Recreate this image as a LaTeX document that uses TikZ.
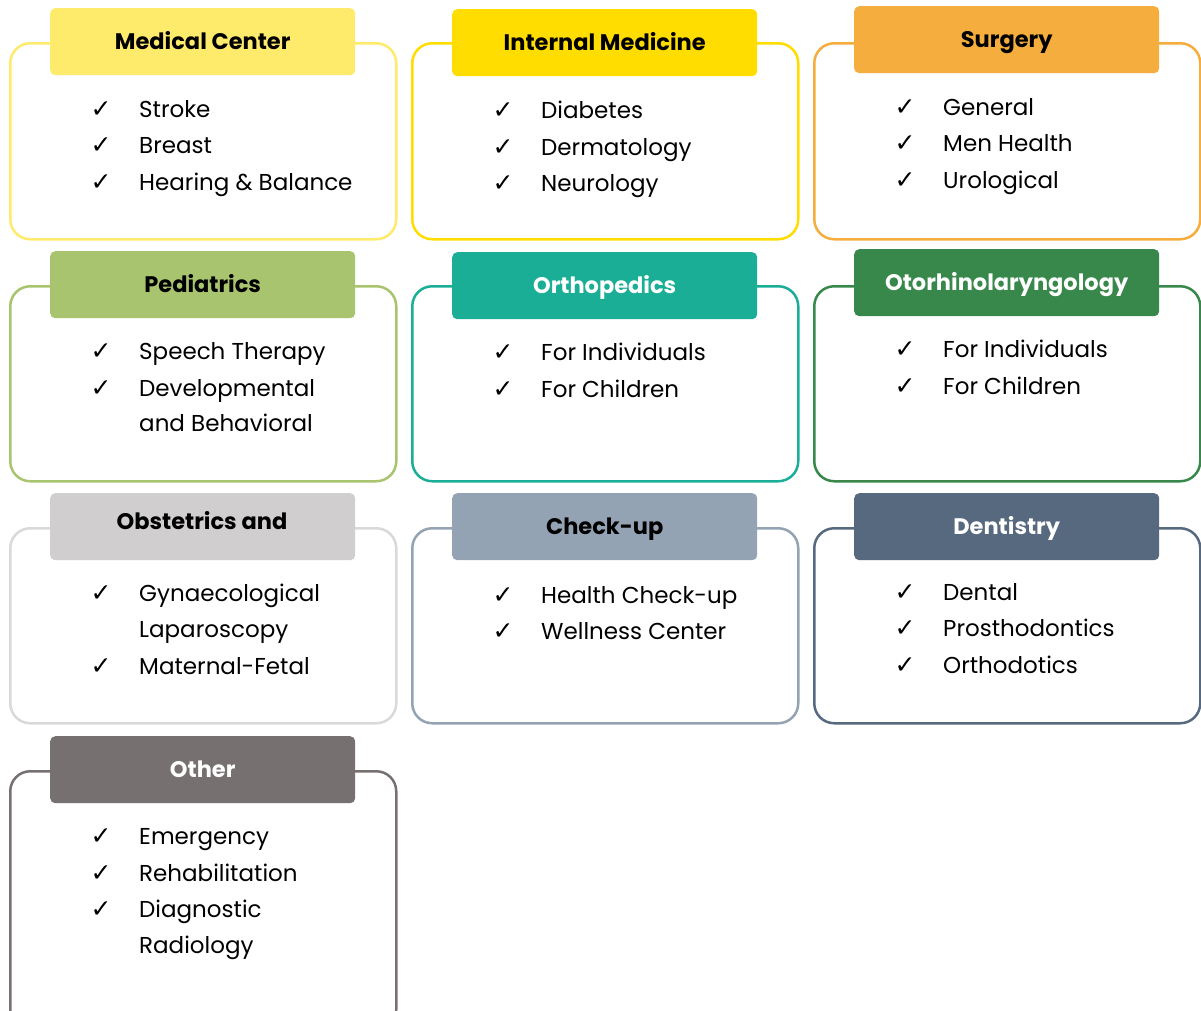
\documentclass[tikz,border=0pt]{standalone}
\usepackage{fontspec}
\setmainfont{Poppins}
\newfontfamily\symfont{DejaVu Sans}
\definecolor{cMed}{HTML}{FFEB6B}
\definecolor{cInt}{HTML}{FFDD00}
\definecolor{cSur}{HTML}{F5AE3E}
\definecolor{cPed}{HTML}{A9C46F}
\definecolor{cOrt}{HTML}{1BAE96}
\definecolor{cOto}{HTML}{37884A}
\definecolor{cObs}{HTML}{D0CECE}
\definecolor{cObsB}{HTML}{D9D9D9}
\definecolor{cChk}{HTML}{94A3B3}
\definecolor{cDen}{HTML}{56697F}
\definecolor{cOth}{HTML}{767170}
\tikzset{
  outerbox/.style={draw=#1, line width=2.5pt, rounded corners=20pt, fill=white,
    minimum width=386pt, anchor=north west, inner sep=0pt},
  headfont/.style={font=\fontsize{22.5}{26}\selectfont\bfseries, text height=20pt, text depth=4.2pt},
  headbox/.style={fill=#1, rounded corners=5pt, minimum width=305pt, minimum height=67pt,
    anchor=north west, inner sep=0pt, headfont},
  tick/.style={anchor=base, inner sep=0pt, font=\symfont\fontsize{25}{28}\selectfont},
  item/.style={anchor=base west, inner sep=0pt, font=\fontsize{23}{27}\selectfont}
}
\begin{document}
\begin{tikzpicture}[x=1pt,y=-1pt]
\useasboundingbox (0,0) rectangle (1201,1010);
% ---------- Row 1 ----------
\node[outerbox=cMed, minimum height=196pt] (b1) at (9,42) {};
\node[headbox=cMed, text=black] (h1) at (50,8) {Medical Center};
\node[tick] (t1a) at (101,117) {✓}; \node[item] (i1a) at (139,117) {Stroke};
\node[tick] (t1b) at (101,153) {✓}; \node[item] (i1b) at (139,153) {Breast};
\node[tick] (t1c) at (101,190) {✓}; \node[item] (i1c) at (139,190) {Hearing \& Balance};

\node[outerbox=cInt, minimum height=196pt] (b2) at (411,42) {};
\node[headbox=cInt, text=black] (h2) at (452,9) {Internal Medicine};
\node[tick] (t2a) at (503,118) {✓}; \node[item] (i2a) at (541,118) {Diabetes};
\node[tick] (t2b) at (503,155) {✓}; \node[item] (i2b) at (541,155) {Dermatology};
\node[tick] (t2c) at (503,191) {✓}; \node[item] (i2c) at (541,191) {Neurology};

\node[outerbox=cSur, minimum height=196pt] (b3) at (813,42) {};
\node[headbox=cSur, text=black] (h3) at (854,6) {Surgery};
\node[tick] (t3a) at (905,115) {✓}; \node[item] (i3a) at (943,115) {General};
\node[tick] (t3b) at (905,151) {✓}; \node[item] (i3b) at (943,151) {Men Health};
\node[tick] (t3c) at (905,188) {✓}; \node[item] (i3c) at (943,188) {Urological};
% ---------- Row 2 ----------
\node[outerbox=cPed, minimum height=195pt] (b4) at (9,285) {};
\node[headbox=cPed, text=black] (h4) at (50,251) {Pediatrics};
\node[tick] (t4a) at (101,359) {✓}; \node[item] (i4a) at (139,359) {Speech Therapy};
\node[tick] (t4b) at (101,396) {✓}; \node[item] (i4b) at (139,396) {Developmental};
\node[item] (i4c) at (139,431) {and Behavioral};

\node[outerbox=cOrt, minimum height=195pt] (b5) at (411,285) {};
\node[headbox=cOrt, text=white] (h5) at (452,252) {Orthopedics};
\node[tick] (t5a) at (503,360) {✓}; \node[item] (i5a) at (541,360) {For Individuals};
\node[tick] (t5b) at (503,397) {✓}; \node[item] (i5b) at (541,397) {For Children};

\node[outerbox=cOto, minimum height=195pt] (b6) at (813,285) {};
\node[headbox=cOto, text=white] (h6) at (854,249) {Otorhinolaryngology};
\node[tick] (t6a) at (905,357) {✓}; \node[item] (i6a) at (943,357) {For Individuals};
\node[tick] (t6b) at (905,394) {✓}; \node[item] (i6b) at (943,394) {For Children};
% ---------- Row 3 ----------
\node[outerbox=cObsB, minimum height=195pt] (b7) at (9,527) {};
\node[headbox=cObs, text=black] (h7) at (50,493) {};
\node[headfont, inner sep=0pt] (h7t) at (202,522) {Obstetrics and};
\node[tick] (t7a) at (101,601) {✓}; \node[item] (i7a) at (139,601) {Gynaecological};
\node[item] (i7b) at (139,637) {Laparoscopy};
\node[tick] (t7c) at (101,674) {✓}; \node[item] (i7c) at (139,674) {Maternal-Fetal};

\node[outerbox=cChk, minimum height=195pt] (b8) at (411,527) {};
\node[headbox=cChk, text=black] (h8) at (452,493) {Check-up};
\node[tick] (t8a) at (503,603) {✓}; \node[item] (i8a) at (541,603) {Health Check-up};
\node[tick] (t8b) at (503,639) {✓}; \node[item] (i8b) at (541,639) {Wellness Center};

\node[outerbox=cDen, minimum height=195pt] (b9) at (813,527) {};
\node[headbox=cDen, text=white] (h9) at (854,493) {Dentistry};
\node[tick] (t9a) at (905,600) {✓}; \node[item] (i9a) at (943,600) {Dental};
\node[tick] (t9b) at (905,636) {✓}; \node[item] (i9b) at (943,636) {Prosthodontics};
\node[tick] (t9c) at (905,673) {✓}; \node[item] (i9c) at (943,673) {Orthodotics};
% ---------- Row 4 ----------
\node[outerbox=cOth, minimum height=258pt] (b10) at (9,770) {};
\node[headbox=cOth, text=white] (h10) at (50,736) {Other};
\node[tick] (t10a) at (101,844) {✓}; \node[item] (i10a) at (139,844) {Emergency};
\node[tick] (t10b) at (101,881) {✓}; \node[item] (i10b) at (139,881) {Rehabilitation};
\node[tick] (t10c) at (101,917) {✓}; \node[item] (i10c) at (139,917) {Diagnostic};
\node[item] (i10d) at (139,953) {Radiology};
\end{tikzpicture}
\end{document}
